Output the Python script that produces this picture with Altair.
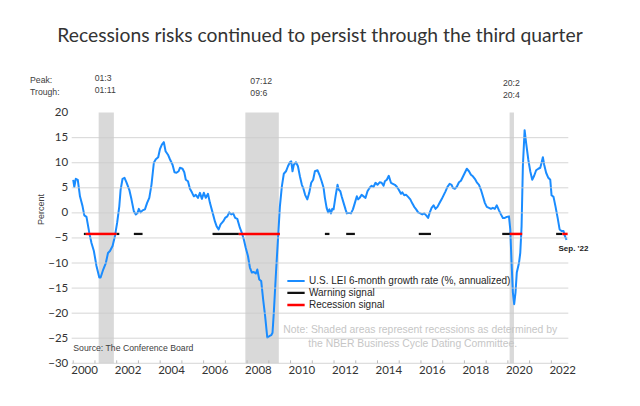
import altair as alt
import pandas as pd

# ---------------- data ----------------
lei_year = [
    2000.00, 2000.05, 2000.12, 2000.21, 2000.31, 2000.43, 2000.51, 2000.61, 2000.74, 2000.84,
    2000.95, 2001.07, 2001.20, 2001.26, 2001.38, 2001.50, 2001.60, 2001.69, 2001.81, 2001.92,
    2002.02, 2002.12, 2002.18, 2002.27, 2002.36, 2002.45, 2002.58, 2002.68, 2002.79, 2002.88,
    2002.96, 2003.02, 2003.10, 2003.19, 2003.30, 2003.40, 2003.50, 2003.60, 2003.71, 2003.80,
    2003.91, 2003.99, 2004.08, 2004.17, 2004.25, 2004.36, 2004.45, 2004.57, 2004.66, 2004.75,
    2004.85, 2004.91, 2005.03, 2005.11, 2005.18, 2005.28, 2005.37, 2005.46, 2005.55, 2005.64,
    2005.74, 2005.83, 2005.92, 2006.01, 2006.10, 2006.20, 2006.29, 2006.41, 2006.52, 2006.60,
    2006.69, 2006.78, 2006.90, 2006.99, 2007.09, 2007.18, 2007.27, 2007.36, 2007.45, 2007.55,
    2007.67, 2007.76, 2007.85, 2007.94, 2008.04, 2008.13, 2008.22, 2008.31, 2008.40, 2008.47,
    2008.56, 2008.65, 2008.74, 2008.83, 2008.93, 2009.02, 2009.11, 2009.17, 2009.23, 2009.33,
    2009.42, 2009.51, 2009.60, 2009.69, 2009.79, 2009.88, 2009.97, 2010.03, 2010.09, 2010.15,
    2010.25, 2010.34, 2010.43, 2010.52, 2010.58, 2010.67, 2010.77, 2010.86, 2010.95, 2011.04,
    2011.12, 2011.24, 2011.33, 2011.43, 2011.52, 2011.58, 2011.66, 2011.73, 2011.79, 2011.86,
    2011.92, 2011.98, 2012.07, 2012.16, 2012.22, 2012.29, 2012.35, 2012.44, 2012.53, 2012.59,
    2012.68, 2012.78, 2012.87, 2012.96, 2013.05, 2013.11, 2013.18, 2013.27, 2013.36, 2013.45,
    2013.54, 2013.64, 2013.73, 2013.82, 2013.91, 2014.00, 2014.10, 2014.19, 2014.28, 2014.34,
    2014.43, 2014.52, 2014.62, 2014.71, 2014.80, 2014.89, 2014.98, 2015.08, 2015.14, 2015.23,
    2015.32, 2015.41, 2015.51, 2015.60, 2015.69, 2015.78, 2015.87, 2015.97, 2016.06, 2016.15,
    2016.24, 2016.33, 2016.40, 2016.49, 2016.58, 2016.67, 2016.76, 2016.86, 2016.95, 2017.04,
    2017.13, 2017.22, 2017.32, 2017.41, 2017.47, 2017.56, 2017.65, 2017.75, 2017.84, 2017.93,
    2018.02, 2018.11, 2018.21, 2018.30, 2018.39, 2018.48, 2018.57, 2018.67, 2018.76, 2018.85,
    2018.94, 2019.03, 2019.13, 2019.22, 2019.31, 2019.40, 2019.49, 2019.59, 2019.68, 2019.77,
    2019.86, 2019.95, 2020.05, 2020.11, 2020.17, 2020.23, 2020.29, 2020.35, 2020.41, 2020.51,
    2020.57, 2020.63, 2020.69, 2020.77, 2020.84, 2020.94, 2021.03, 2021.12, 2021.21, 2021.30,
    2021.40, 2021.49, 2021.55, 2021.61, 2021.67, 2021.76, 2021.86, 2021.95, 2022.01, 2022.10,
    2022.19, 2022.29, 2022.38, 2022.47, 2022.56, 2022.62, 2022.70,
]
lei_value = [
    6.6, 5.2, 6.8, 6.6, 3.3, 1.3, -0.5, -0.8, -4.0, -6.0,
    -7.6, -10.6, -12.9, -12.9, -11.3, -10.0, -8.0, -7.6, -6.6, -4.6,
    -2.0, 1.3, 4.6, 6.8, 7.0, 6.1, 4.6, 2.7, 0.3, -0.3,
    0.0, 0.8, 0.1, 0.5, 0.7, 2.0, 3.0, 5.6, 10.0, 10.7,
    11.1, 12.7, 13.6, 14.1, 12.3, 11.6, 10.7, 9.6, 8.1, 8.0,
    8.3, 9.0, 8.8, 8.1, 6.6, 6.3, 4.8, 4.1, 3.3, 3.6,
    3.0, 4.0, 2.8, 4.0, 3.0, 3.8, 2.0, 0.1, -1.7, -2.7,
    -3.3, -2.3, -1.7, -1.0, -0.7, 0.1, -0.3, -0.1, -1.0, -1.2,
    -3.0, -4.0, -5.3, -7.0, -8.6, -10.9, -11.9, -11.8, -12.1, -11.3,
    -13.3, -13.6, -17.3, -20.6, -24.9, -24.6, -24.4, -23.9, -19.9, -11.9,
    -5.3, 1.3, 5.3, 7.8, 8.3, 9.3, 10.1, 10.3, 8.3, 9.6,
    10.1, 9.3, 7.3, 5.6, 5.0, 3.6, 2.7, 4.0, 6.0, 6.6,
    8.3, 8.5, 7.6, 6.3, 5.0, 3.0, 1.0, 0.1, 0.7, -0.1,
    0.8, 0.7, 3.3, 5.6, 4.6, 4.3, 3.3, 2.0, 0.7, -0.1,
    0.0, -0.1, 0.7, 2.0, 3.3, 2.7, 3.0, 3.6, 3.3, 3.0,
    4.3, 5.0, 5.4, 5.2, 6.0, 5.6, 6.1, 6.0, 5.4, 6.3,
    6.6, 7.4, 6.0, 5.8, 5.6, 5.2, 4.6, 3.8, 4.1, 3.5,
    3.6, 3.2, 2.7, 1.9, 1.2, 0.7, 0.1, -0.1, -0.3, -0.1,
    -0.5, -1.0, 0.0, 1.0, 1.5, 0.8, 1.2, 2.0, 2.7, 3.5,
    4.3, 5.2, 5.8, 5.6, 5.0, 4.8, 5.2, 6.1, 6.4, 7.2,
    8.0, 8.8, 8.3, 7.6, 7.3, 6.8, 6.1, 5.6, 4.6, 3.3,
    2.0, 1.2, 1.0, 0.8, 1.0, 0.8, 1.5, 0.5, -0.3, -1.0,
    -1.0, -0.8, -0.7, -3.3, -10.0, -15.9, -18.2, -15.9, -11.9, -10.0,
    -8.0, -2.7, 9.3, 16.5, 13.9, 10.6, 8.3, 6.6, 7.4, 8.5,
    8.8, 9.0, 10.0, 11.1, 9.6, 8.0, 7.0, 6.6, 3.5, 3.2,
    1.3, -1.0, -3.3, -3.6, -3.6, -4.6, -5.4,
]

# NBER recessions (peak / trough)
rec_start = [2001.17, 2007.92, 2020.08]
rec_end = [2001.87, 2009.46, 2020.28]
rec_peak = ["01:3", "07:12", "20:2"]
rec_trough = ["01:11", "09:6", "20:4"]

# signals
warn_start = [2000.49, 2001.99, 2002.79, 2006.41, 2011.58, 2012.56, 2015.90, 2019.74, 2022.22]
warn_end = [2000.58, 2002.12, 2003.19, 2007.62, 2011.79, 2012.96, 2016.46, 2020.09, 2022.50]
recsig_start = [2000.58, 2007.62, 2020.09, 2022.50]
recsig_end = [2001.99, 2009.51, 2020.66, 2022.75]
signal_level = -4.2

series_names = ["U.S. LEI 6-month growth rate (%, annualized)", "Warning signal", "Recession signal"]
y_axis_values = [-30, -25, -20, -15, -10, -5, 0, 5, 10, 15, 20]
grid_values = [-30, -25, -20, -15, -10, -5, 0, 5, 10, 15]
tick_years = list(range(2000, 2023))

title_text = "Recessions risks continued to persist through the third quarter"
source_text = "Source: The Conference Board"
note_lines = ["Note: Shaded areas represent recessions as determined by",
              "the NBER Business Cycle Dating Committee."]
end_label = "Sep. '22"

# ---------------- frames ----------------
lei_df = pd.DataFrame({"year": lei_year, "value": lei_value, "series": series_names[0]})
sig_df = pd.DataFrame({
    "start": warn_start + recsig_start,
    "end": warn_end + recsig_end,
    "series": [series_names[1]] * len(warn_start) + [series_names[2]] * len(recsig_start),
    "level": signal_level,
})
rec_df = pd.DataFrame({"start": rec_start, "end": rec_end, "peak": rec_peak, "trough": rec_trough})
grid_df = pd.DataFrame({"v": grid_values})
tick_df = pd.DataFrame({"year": tick_years})

W, H = 496.6, 250.7
XS = alt.Scale(domain=[1999.93, 2022.78], nice=False, zero=False)
YS = alt.Scale(domain=[-30, 20], nice=False, zero=False)
AXF = "Lato"
TXF = "Liberation Sans"
HALF_YEAR_PX = W / (2022.78 - 1999.93) / 2

AX_X = alt.Axis(
    values=tick_years,
    labelExpr="datum.value % 2 == 0 ? '' + datum.value : ''",
    labelOffset=HALF_YEAR_PX,
    grid=False, domain=False, ticks=False,
    offset=-3, labelFont=AXF, labelFontSize=11.5, labelColor="#333333",
    labelBaseline="middle", labelPadding=10, labelFlush=False, labelOverlap=False,
    title=None,
)
AX_Y = alt.Axis(
    values=y_axis_values, grid=False,
    domain=False, ticks=False,
    labelFont=AXF, labelFontSize=11.5, labelColor="#333333", labelPadding=4,
    title="Percent", titleFont=TXF, titleFontSize=9, titleFontWeight="normal",
    titleColor="#404040", titleAngle=270, titleX=-31, titleY=96.4,
    titleAlign="center", titleBaseline="middle",
)

LEG = alt.Legend(
    title=None, orient="none", legendX=214.3, legendY=162.5,
    symbolType="stroke", symbolSize=300, labelFont=TXF, labelFontSize=10,
    labelColor="#262626", labelOffset=3, rowPadding=0, clipHeight=11.7,
    padding=0, labelLimit=0,
)
COLORS = ["#1a8cff", "#111111", "#ff0000"]
WIDTHS = [2, 2.5, 5]

shade = alt.Chart(rec_df).mark_rect(color="#d9d9d9").encode(
    x=alt.X("start:Q", scale=XS, axis=AX_X),
    x2="end:Q",
    y=alt.value(0), y2=alt.value(H),
)

line = alt.Chart(lei_df).mark_line(strokeJoin="round").encode(
    x=alt.X("year:Q", scale=XS, axis=AX_X),
    y=alt.Y("value:Q", scale=YS, axis=AX_Y),
    color=alt.Color("series:N", scale=alt.Scale(domain=series_names, range=COLORS), legend=LEG),
    strokeWidth=alt.StrokeWidth("series:N", scale=alt.Scale(domain=series_names, range=WIDTHS), legend=LEG),
)

signals = alt.Chart(sig_df).mark_rule(strokeCap="butt").encode(
    x=alt.X("start:Q", scale=XS, axis=AX_X),
    x2="end:Q",
    y=alt.Y("level:Q", scale=YS, axis=AX_Y),
    color=alt.Color("series:N", scale=alt.Scale(domain=series_names, range=COLORS), legend=LEG),
    strokeWidth=alt.StrokeWidth("series:N", scale=alt.Scale(domain=series_names, range=WIDTHS), legend=LEG),
)

# light horizontal grid and small year ticks, drawn after the data layers
grid = alt.Chart(grid_df).mark_rule(color="#cccccc", strokeWidth=1, opacity=0.8).encode(
    y=alt.Y("v:Q", scale=YS, axis=AX_Y),
)
ticks = alt.Chart(tick_df).mark_rule(color="#bbbbbb", strokeWidth=1).encode(
    x=alt.X("year:Q", scale=XS, axis=AX_X),
    y=alt.value(H - 3), y2=alt.value(H),
)

# ---------------- text annotations ----------------
def txt(text, x, y, size, color="#404040", font=TXF, align="left", weight="normal"):
    return alt.Chart(pd.DataFrame({"t": [text]})).mark_text(
        font=font, fontSize=size, color=color, align=align, baseline="middle", fontWeight=weight
    ).encode(x=alt.value(x), y=alt.value(y), text="t:N")

title = txt(title_text, 248.3, -76.6, 19.3, color="#333333", font="Lato", align="center")
peak_lbl = txt("Peak:", -41.7, -33, 8.7)
trough_lbl = txt("Trough:", -41.7, -21, 8.7)

rec_label_dx = [-4, 5, -6.7]
rec_label_dy = [-35, -32, -29.5]
rec_layers = []
for i in range(len(rec_start)):
    d = pd.DataFrame({"x": [rec_start[i]], "peak": [rec_peak[i]], "trough": [rec_trough[i]]})
    base = alt.Chart(d).mark_text(font=TXF, fontSize=8.7, color="#404040", align="left",
                                  baseline="middle", dx=rec_label_dx[i])
    rec_layers.append(base.encode(x=alt.X("x:Q", scale=XS, axis=AX_X), y=alt.value(rec_label_dy[i]), text="peak:N"))
    rec_layers.append(base.encode(x=alt.X("x:Q", scale=XS, axis=AX_X), y=alt.value(rec_label_dy[i] + 12), text="trough:N"))

source = txt(source_text, 1.6, 235.1, 8.7)
note1 = txt(note_lines[0], 348.5, 217.4, 10.4, color="#c6c6c6", align="center")
note2 = txt(note_lines[1], 341.0, 231.9, 10.4, color="#c6c6c6", align="center")
sep = txt(end_label, 486.8, 136.7, 8, color="#222222", align="left", weight="bold")

chart = alt.layer(
    shade, line, signals, grid, ticks, title, peak_lbl, trough_lbl, *rec_layers,
    source, note1, note2, sep,
).properties(
    width=W, height=H,
    autosize=alt.AutoSizeParams(type="none"),
    padding={"left": 63.7, "top": 104.6, "right": 63.7, "bottom": 34},
).configure_view(stroke=None)

chart.save("out.html", embed_options={"renderer": "svg", "actions": False})
